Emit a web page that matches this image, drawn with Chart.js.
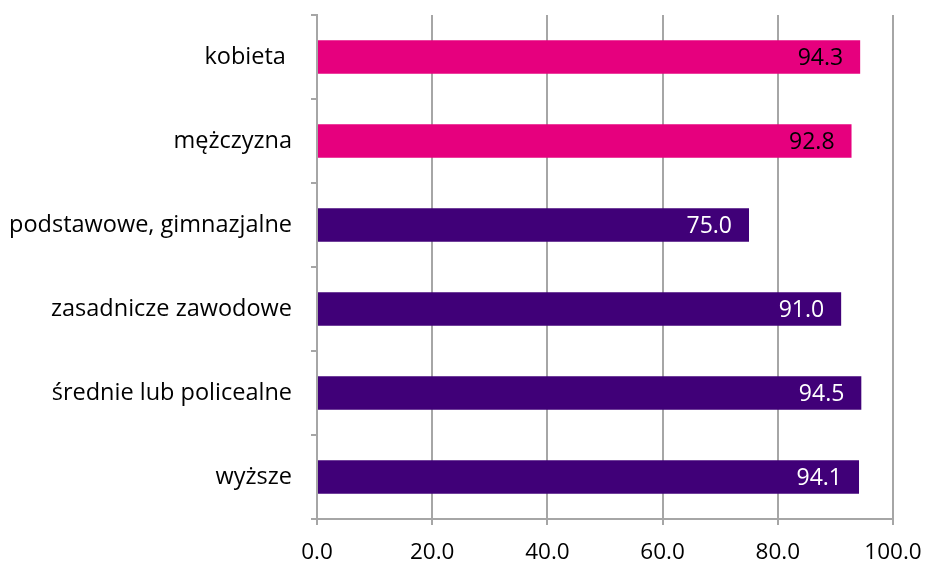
<!DOCTYPE html>
<html lang="pl">
<head>
<meta charset="UTF-8">
<title>Wykres</title>
<script src="https://cdn.jsdelivr.net/npm/chart.js"></script>
<style>
    body { margin: 0; background: #fff; }
    .canvas_box { width: 927px; height: 564px; }
</style>
</head>
<body>
<div class="canvas_box"><canvas id="myChart"></canvas></div>
<script>
    const kategorie = ['kobieta ', 'mężczyzna', 'podstawowe, gimnazjalne', 'zasadnicze zawodowe', 'średnie lub policealne', 'wyższe'];
    const wartosci = [94.3, 92.8, 75.0, 91.0, 94.5, 94.1];
    const kolory = ['#e6007e', '#e6007e', '#400078', '#400078', '#400078', '#400078'];
    const koloryEtykiet = ['#000000', '#000000', '#ffffff', '#ffffff', '#ffffff', '#ffffff'];
    const xMin = 0, xMax = 100, xKrok = 20;

    const czcionka = '"Open Sans", sans-serif';

    // etykiety wartosci wewnatrz konca slupka
    const etykiety = {
        id: 'etykiety',
        afterDatasetsDraw(chart) {
            const ctx = chart.ctx;
            const meta = chart.getDatasetMeta(0);
            ctx.save();
            ctx.font = '23px ' + czcionka;
            ctx.textAlign = 'right';
            ctx.textBaseline = 'middle';
            meta.data.forEach(function (bar, i) {
                ctx.fillStyle = koloryEtykiet[i];
                ctx.fillText(wartosci[i].toFixed(1), bar.x - 17, bar.y + 1);
            });
            ctx.restore();
        }
    };

    new Chart('myChart', {
        type: 'bar',
        data: {
            labels: kategorie,
            datasets: [{
                data: wartosci,
                backgroundColor: kolory,
                borderWidth: 0,
                categoryPercentage: 1,
                barPercentage: 0.4
            }]
        },
        options: {
            indexAxis: 'y',
            responsive: true,
            maintainAspectRatio: false,
            animation: false,
            layout: { padding: { top: 15, right: 34, left: 0, bottom: 0 } },
            plugins: { legend: { display: false }, tooltip: { enabled: false } },
            scales: {
                x: {
                    min: xMin,
                    max: xMax,
                    ticks: {
                        stepSize: xKrok,
                        color: '#000',
                        padding: 14,
                        font: { family: czcionka, size: 22.5 },
                        callback: v => Number(v).toFixed(1)
                    },
                    grid: { color: '#a6a6a6', lineWidth: 2, tickLength: 6 },
                    border: { color: '#a6a6a6', width: 2 },
                    afterFit(scale) {
                        scale.height = 45;
                        scale.paddingLeft = 0;
                        scale.paddingRight = 0;
                    }
                },
                y: {
                    offset: true,
                    ticks: {
                        color: '#000',
                        padding: 19,
                        font: { family: czcionka, size: 23.5 }
                    },
                    grid: { offset: true, drawOnChartArea: false, color: '#a6a6a6', lineWidth: 2, tickLength: 6 },
                    border: { color: '#a6a6a6', width: 2 },
                    afterFit(scale) {
                        scale.width = 317;
                        scale.paddingTop = 0;
                        scale.paddingBottom = 0;
                    }
                }
            }
        },
        plugins: [etykiety]
    });
</script>
</body>
</html>
